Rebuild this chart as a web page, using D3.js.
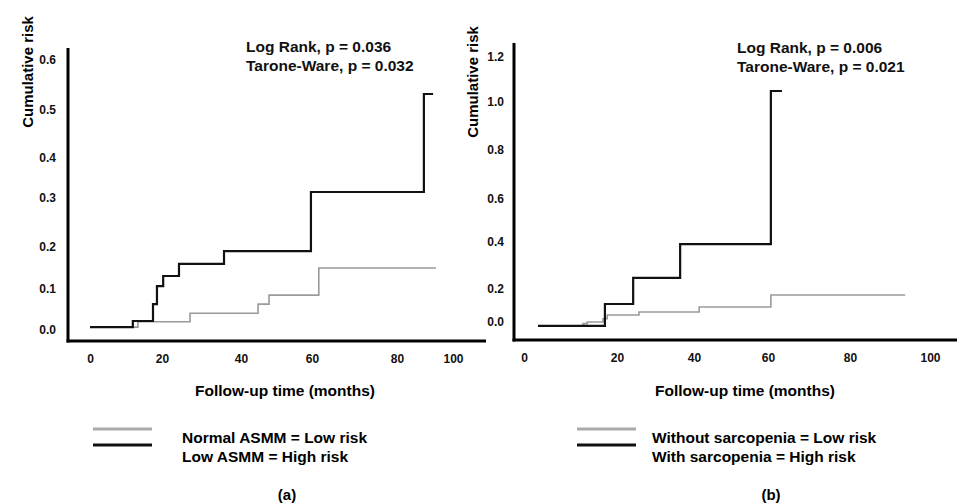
<!DOCTYPE html>
<html>
<head>
<meta charset="utf-8">
<script src="https://cdn.jsdelivr.net/npm/d3@7"></script>
<style>
  body { margin: 0; background: #fff; }
  svg { font-family: "Liberation Sans", Arial, sans-serif; font-weight: bold; }
</style>
</head>
<body>
<svg width="957" height="504"></svg>
<script>
// tick labels
const xTicks = [0, 20, 40, 60, 80, 100];
const yTicksA = [0, 0.1, 0.2, 0.3, 0.4, 0.5, 0.6];
const yTicksB = [0, 0.2, 0.4, 0.6, 0.8, 1.0, 1.2];

// step curves, [months, cumulative risk]
const normalASMM = [[0, 0.007], [13.3, 0.02], [27.1, 0.041], [44.8, 0.063], [47.9, 0.085], [61.6, 0.15], [93.9, 0.15]];
const lowASMM = [[0, 0.007], [11.9, 0.022], [17.5, 0.063], [18.6, 0.107], [20.3, 0.131], [24.3, 0.16], [35.7, 0.19], [59.7, 0.315], [89.6, 0.532], [92.9, 0.532]];
const noSarcopenia = [[3, -0.024], [12.7, -0.01], [13.6, 0.0], [17.0, 0.02], [17.9, 0.042], [25.7, 0.061], [41.4, 0.091], [60.7, 0.164], [93.8, 0.164]];
const sarcopenia = [[3, -0.024], [17.4, 0.109], [24.2, 0.247], [36.4, 0.391], [60.7, 1.049], [63.4, 1.049]];

const statsA = ["Log Rank, p = 0.036", "Tarone-Ware, p = 0.032"];
const statsB = ["Log Rank, p = 0.006", "Tarone-Ware, p = 0.021"];
const legendA = ["Normal ASMM = Low risk", "Low ASMM = High risk"];
const legendB = ["Without sarcopenia = Low risk", "With sarcopenia = High risk"];

const svg = d3.select("svg");

// the printed axes are not evenly spaced, so each tick gets its own pixel position
const panels = [
    {
        low: normalASMM, high: lowASMM, yTicks: yTicksA, yFmt: d3.format(".1f"),
        xRange: [90, 162, 241, 312, 397, 453], yRange: [330, 289, 247, 198, 158, 110, 60],
        yAxisX: 68, yAxisTop: 48, xAxisY: 341, xAxisEnd: 486, yLabelX: 56,
        titleX: 33, titleY: 72, statsX: 246, statsY: 52,
        stats: statsA, legend: legendA, legX: 93, legTextX: 182, xTitleX: 285, caption: "(a)", capX: 287
    },
    {
        low: noSarcopenia, high: sarcopenia, yTicks: yTicksB, yFmt: d3.format(".1f"),
        xRange: [524, 617, 694, 768, 850, 930], yRange: [322, 289, 242, 199, 150, 102, 57],
        yAxisX: 514, yAxisTop: 43, xAxisY: 340, xAxisEnd: 957, yLabelX: 504,
        titleX: 478, titleY: 82, statsX: 737, statsY: 53,
        stats: statsB, legend: legendB, legX: 577, legTextX: 652, xTitleX: 745, caption: "(b)", capX: 771
    }
];

panels.forEach(p => {
    const x = d3.scaleLinear().domain(xTicks).range(p.xRange);
    const y = d3.scaleLinear().domain(p.yTicks).range(p.yRange);
    const g = svg.append("g");

    // axis lines
    g.append("line")
        .attr("x1", p.yAxisX).attr("x2", p.yAxisX)
        .attr("y1", p.yAxisTop).attr("y2", p.xAxisY + 1.5)
        .attr("stroke", "#000").attr("stroke-width", 3);
    g.append("line")
        .attr("x1", p.yAxisX - 1.5).attr("x2", p.xAxisEnd)
        .attr("y1", p.xAxisY).attr("y2", p.xAxisY)
        .attr("stroke", "#000").attr("stroke-width", 3);

    const yAxis = g.append("g")
        .attr("transform", `translate(${p.yLabelX},0)`)
        .call(d3.axisLeft(y).tickValues(p.yTicks).tickFormat(p.yFmt).tickSize(0).tickPadding(0));
    const xAxis = g.append("g")
        .attr("transform", `translate(0,${p.xAxisY + 5})`)
        .call(d3.axisBottom(x).tickValues(xTicks).tickSize(0).tickPadding(8));
    [yAxis, xAxis].forEach(a => {
        a.select(".domain").remove();
        a.selectAll("text")
            .attr("fill", "#111")
            .style("font-size", "12px")
            .style("font-family", "\"Liberation Sans\", Arial, sans-serif")
            .style("font-weight", "bold");
    });

    const line = d3.line().x(d => x(d[0])).y(d => y(d[1])).curve(d3.curveStepAfter);
    g.append("path").datum(p.low)
        .attr("d", line).attr("fill", "none")
        .attr("stroke", "#9a9a9a").attr("stroke-width", 1.6);
    g.append("path").datum(p.high)
        .attr("d", line).attr("fill", "none")
        .attr("stroke", "#111").attr("stroke-width", 2.2);

    g.append("text")
        .attr("transform", `translate(${p.titleX},${p.titleY}) rotate(-90)`)
        .attr("text-anchor", "middle")
        .style("font-size", "15px")
        .text("Cumulative risk");

    g.selectAll(".stat").data(p.stats).enter().append("text")
        .attr("x", p.statsX).attr("y", (d, i) => p.statsY + i * 19)
        .style("font-size", "15.5px").attr("fill", "#111")
        .text(d => d);

    g.append("text")
        .attr("x", p.xTitleX).attr("y", 396)
        .attr("text-anchor", "middle")
        .style("font-size", "15.5px")
        .text("Follow-up time (months)");

    // legend
    const legColors = ["#aaa", "#111"];
    legColors.forEach((c, i) => {
        g.append("line")
            .attr("x1", p.legX).attr("x2", p.legX + 59)
            .attr("y1", 429 + i * 16).attr("y2", 429 + i * 16)
            .attr("stroke", c).attr("stroke-width", 3);
    });
    g.selectAll(".leg").data(p.legend).enter().append("text")
        .attr("x", p.legTextX).attr("y", (d, i) => 443 + i * 19)
        .style("font-size", "15.5px")
        .text(d => d);

    g.append("text")
        .attr("x", p.capX).attr("y", 500)
        .attr("text-anchor", "middle")
        .style("font-size", "15px")
        .text(p.caption);
});
</script>
</body>
</html>
